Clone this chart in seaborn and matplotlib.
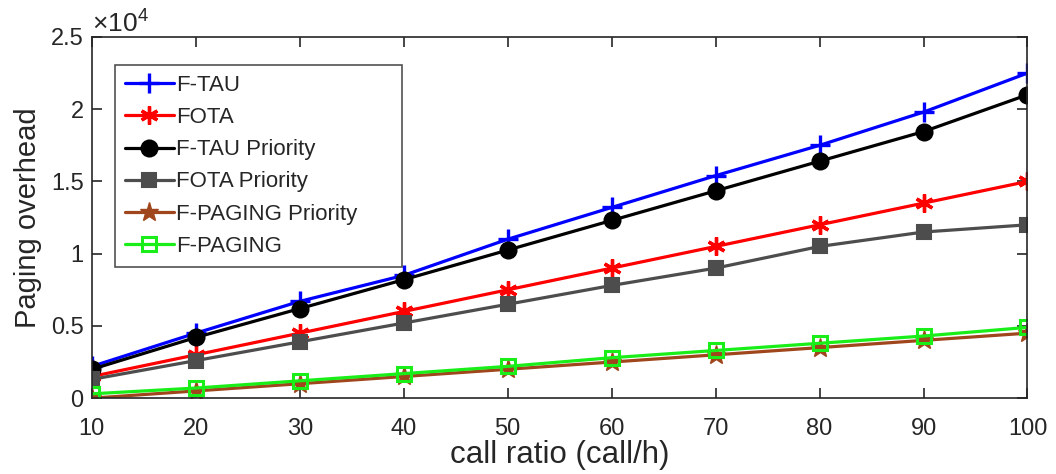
import matplotlib
matplotlib.use("Agg")
import matplotlib.pyplot as plt
import seaborn as sns
import pandas as pd

# call ratio (call/h)
call_ratio = [10, 20, 30, 40, 50, 60, 70, 80, 90, 100]

# paging overhead per scheme
f_tau = [2200, 4500, 6700, 8500, 11000, 13200, 15400, 17500, 19800, 22500]
fota = [1500, 3000, 4500, 6000, 7500, 9000, 10500, 12000, 13500, 15000]
f_tau_priority = [2000, 4200, 6200, 8200, 10250, 12300, 14350, 16400, 18450, 21000]
fota_priority = [1300, 2600, 3900, 5200, 6500, 7800, 9000, 10500, 11500, 12000]
f_paging_priority = [0, 500, 1000, 1500, 2000, 2500, 3000, 3500, 4000, 4500]
f_paging = [300, 700, 1200, 1700, 2200, 2800, 3300, 3800, 4300, 4900]

series_names = ["F-TAU", "FOTA", "F-TAU Priority", "FOTA Priority",
                "F-PAGING Priority", "F-PAGING"]
series_values = [f_tau, fota, f_tau_priority, fota_priority,
                 f_paging_priority, f_paging]

y_ticks = [0, 5000, 10000, 15000, 20000, 25000]
y_tick_labels = ["0", "0.5", "1", "1.5", "2", "2.5"]
x_ticks = call_ratio
x_tick_labels = [str(v) for v in call_ratio]

sns.set_theme(style="white")
plt.rcParams["font.family"] = ["Liberation Sans", "DejaVu Sans"]
plt.rcParams["mathtext.fontset"] = "custom"
plt.rcParams["mathtext.rm"] = "Liberation Sans"

asterisk = (6, 2, 0)
styles = {
    "F-TAU": dict(color="#0000ff", marker="+", markersize=15, mew=2.4),
    "FOTA": dict(color="#ff0000", marker=asterisk, markersize=13, mew=2.4),
    "F-TAU Priority": dict(color="#000000", marker="o", markersize=11.5, mew=1.5),
    "FOTA Priority": dict(color="#4d4d4d", marker="s", markersize=9.5, mew=1.5),
    "F-PAGING Priority": dict(color="#a0461c", marker="*", markersize=14, mew=1),
    "F-PAGING": dict(color="#19ee19", marker="s", markersize=10, mew=2.2,
                     markerfacecolor="none"),
}

frames = []
for name, vals in zip(series_names, series_values):
    frames.append(pd.DataFrame({"call_ratio": call_ratio, "overhead": vals,
                                "scheme": name}))
df = pd.concat(frames, ignore_index=True)

fig = plt.figure(figsize=(10.56, 4.74), dpi=100)
ax = fig.add_axes([0.087, 0.160, 0.886, 0.762])

for name in series_names:
    st = dict(styles[name])
    color = st.pop("color")
    marker = st.pop("marker")
    sns.lineplot(data=df[df["scheme"] == name], x="call_ratio", y="overhead",
                 ax=ax, color=color, marker=marker, linewidth=2.3,
                 markeredgecolor=color, label=name, **st)

ax.set_xlim(10, 100)
ax.set_ylim(0, 25000)
ax.set_xticks(x_ticks)
ax.set_xticklabels(x_tick_labels)
ax.set_yticks(y_ticks)
ax.set_yticklabels(y_tick_labels)

ax.set_xlabel("call ratio (call/h)", fontsize=22.5, color="#262626", labelpad=0)
ax.set_ylabel("Paging overhead", fontsize=21, color="#262626", labelpad=6)
ax.text(0.0, 1.0, r"$\times 10^{4}$", transform=ax.transAxes,
        fontsize=19, color="#262626", ha="left", va="bottom")

for side in ["left", "right", "top", "bottom"]:
    ax.spines[side].set_visible(True)
    ax.spines[side].set_color("#262626")
    ax.spines[side].set_linewidth(1.2)

ax.tick_params(axis="both", which="both", direction="in", length=7, width=1.2,
               top=True, right=True, bottom=True, left=True,
               labelsize=17, labelcolor="#262626", color="#262626", pad=6)
ax.tick_params(axis="x", pad=14)
ax.grid(False)

leg = ax.legend(loc="upper left", bbox_to_anchor=(0.0246, 0.922, 0.3066, 0.0),
                mode="expand", fontsize=16,
                frameon=True, fancybox=False, edgecolor="#262626",
                handlelength=2.2, handletextpad=0.1, borderpad=0.45,
                labelspacing=0.5, borderaxespad=0.0)
leg.get_frame().set_linewidth(1.2)

fig.savefig("out.png", dpi=100)
